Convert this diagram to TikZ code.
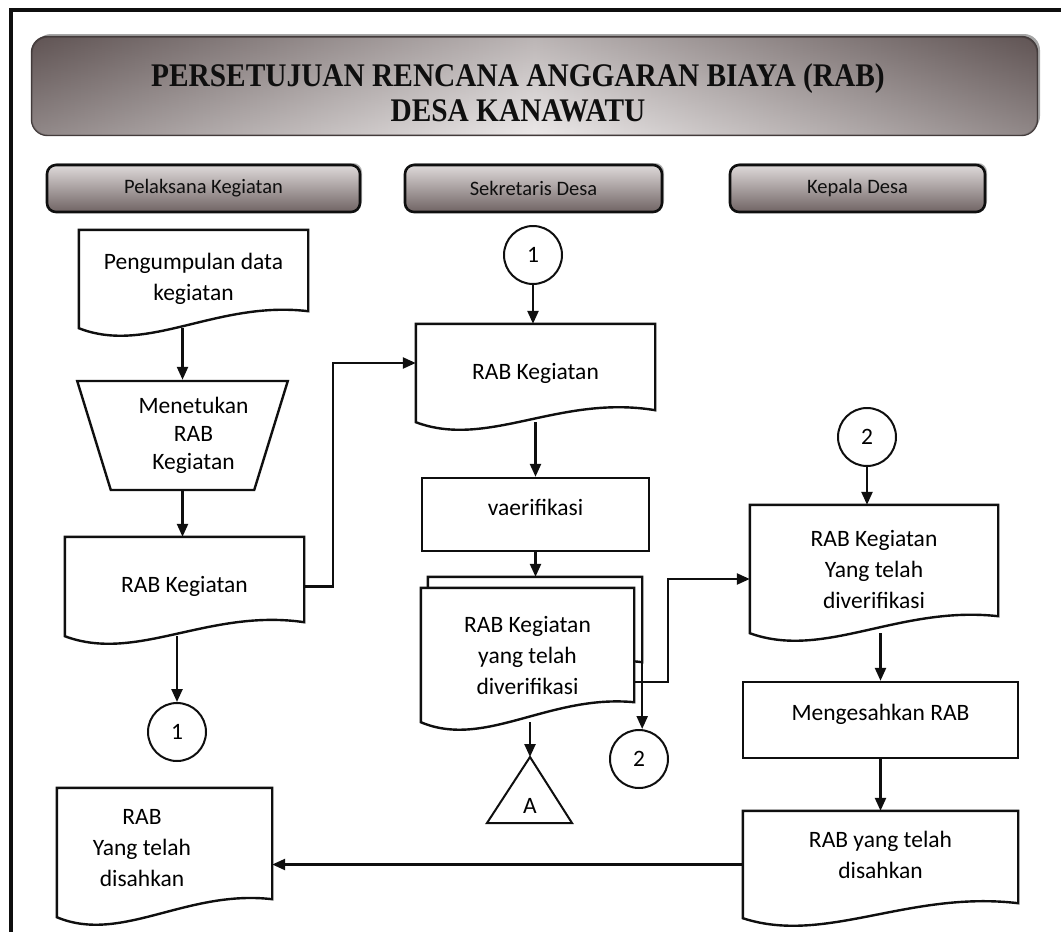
\documentclass[tikz,border=0pt]{standalone}
\usepackage{fontspec}
\setmainfont{Carlito}
\newfontfamily\titlefont[FakeStretch=0.89]{Liberation Serif}
\usetikzlibrary{arrows.meta,calc,shapes.geometric,shadows}

\pgfdeclarelayer{bg}
\pgfsetlayers{bg,main}

\definecolor{ink}{RGB}{15,15,15}
\definecolor{tdark}{RGB}{96,84,84}
\definecolor{tlight}{RGB}{236,233,233}
\definecolor{bdark}{RGB}{112,100,100}
\definecolor{blight}{RGB}{222,217,217}

\newcommand\bodyfont{\fontsize{23.5}{31}\selectfont}
\newcommand\lanefont{\fontsize{20.5}{24}\selectfont}

% document symbol drawn round a named node: [rise of right corner]{node}
\newcommand\docpath[2][17]{%
  \begin{pgfonlayer}{bg}
  \draw[outline, fill=white] (#2.north west) -- (#2.north east) -- ($(#2.south east)+(0,-#1)$)
    .. controls ($(#2.south west)!0.6!(#2.south east)+(0,-28)$) and ($(#2.south west)!0.3!(#2.south east)+(0,27)$) .. (#2.south west) -- cycle;
  \end{pgfonlayer}}

\tikzset{
  outline/.style={draw=ink, line width=2.4pt, line join=miter},
  frame/.style={draw=ink, line width=4pt},
  titlebox/.style={rounded corners=16pt, draw=tdark!70!black, line width=1.2pt,
    left color=tdark, right color=tdark, middle color=tlight,
    minimum width=1005pt, minimum height=98pt,
    drop shadow={shadow xshift=3pt, shadow yshift=3pt, fill=black, opacity=0.35}},
  titletext/.style={font=\titlefont\bfseries\fontsize{33}{34.5}\selectfont, align=center, text=ink},
  lane/.style={rounded corners=9pt, draw=ink, line width=2.6pt, minimum height=47pt,
    top color=blight, bottom color=bdark, font=\lanefont, text=ink,
    drop shadow={shadow xshift=2pt, shadow yshift=2pt, fill=black, opacity=0.3}},
  docu/.style={inner sep=0pt, align=center, font=\bodyfont},
  proc/.style={outline, inner sep=0pt, align=center, font=\bodyfont},
  manual/.style={outline, trapezium, trapezium angle=68, trapezium stretches=true,
    shape border rotate=180, inner sep=0pt, align=center,
    font=\fontsize{23.5}{28}\selectfont},
  conn/.style={circle, draw=ink, line width=2pt, minimum size=58pt, inner sep=0pt, font=\bodyfont},
  arr/.style={draw=ink, line width=2.4pt, -{Triangle[length=13pt,width=11pt]}}
}

\begin{document}
\begin{tikzpicture}[x=1pt,y=1pt,yscale=-1,xscale=1]
\useasboundingbox (0,0) rectangle (1061,932);

% Frame
\draw[frame] (1061,10) -- (11,10) -- (11,932);

% Title
\node[titlebox] (title) at (534.5,86) {};
\path[rounded corners=16pt, top color=tdark, bottom color=tlight, fill opacity=0.35] (title.north west) rectangle (title.south east);
\draw[rounded corners=16pt, draw=tdark!70!black, line width=1.2pt] (title.north west) rectangle (title.south east);
\node[titletext] (ttl) at (518,93) {PERSETUJUAN RENCANA ANGGARAN BIAYA (RAB)\\DESA KANAWATU};

% Lanes
\node[lane, minimum width=313pt] (lane1) at (203.5,188.5) {Pelaksana Kegiatan};
\node[lane, minimum width=257pt] (lane2) at (533.5,188.5) {Sekretaris Desa};
\node[lane, minimum width=255pt] (lane3) at (857.5,188.5) {Kepala Desa};

% Pelaksana Kegiatan
\node[docu, minimum width=229pt, minimum height=98pt] (pd) at (193.5,279) {Pengumpulan data\\kegiatan};
\docpath{pd}
\node[manual, minimum width=211pt, minimum height=109pt] (trap) at (182.5,435.5) {\hspace*{22pt}Menetukan\\\hspace*{22pt}RAB\\\hspace*{22pt}Kegiatan};
\node[docu, minimum width=239pt, minimum height=99pt] (lk) at (184.5,586.5) {RAB Kegiatan};
\docpath[14]{lk}
\node[conn] (c1a) at (177,732) {1};
\node[docu, minimum width=215pt, minimum height=129pt] (ld) at (164.5,852.5) {};
\docpath[18]{ld}
\node[docu] (ldtxt) at (142,848) {RAB\\Yang telah\\disahkan};

% Sekretaris Desa
\node[conn] (c1b) at (533,255) {1};
\node[docu, minimum width=239pt, minimum height=98pt] (mk) at (535.5,373) {RAB Kegiatan};
\docpath[12]{mk}
\node[proc, minimum width=227pt, minimum height=73pt] (ver) at (535.5,514.5) {vaerifikasi\\[-17pt]};
\node[docu, minimum width=214pt, minimum height=102pt] (back) at (535,628) {};
\docpath{back}
\node[docu, minimum width=213pt, minimum height=134pt] (front) at (527.5,655) {RAB Kegiatan\\yang telah\\diverifikasi};
\docpath[20]{front}
\coordinate (apexA) at (530,757);
\draw[outline, line width=2pt] (apexA) -- (487,823) -- (572,823) -- cycle;
\node[font=\bodyfont] (ta) at (530,806) {A};
\node[conn] (c2b) at (639,759) {2};

% Kepala Desa
\node[conn] (c2a) at (867,437) {2};
\node[docu, minimum width=248pt, minimum height=128pt] (rk) at (874,569) {RAB Kegiatan\\Yang telah\\diverifikasi};
\docpath{rk}
\node[proc, minimum width=275pt, minimum height=76pt] (mg) at (880.5,720) {Mengesahkan RAB\\[-15pt]};
\node[docu, minimum width=275pt, minimum height=107pt] (rd) at (880.5,864.5) {RAB yang telah\\disahkan\\[-11pt]};
\docpath[15]{rd}

% Connectors
\draw[arr] (pd.south -| trap.north) -- (trap.north);
\draw[arr] (trap.south) -- (trap.south |- lk.north);
\draw[arr] (lk.east) -- ++(29,0) |- ($(mk.west)+(0,-10)$);
\draw[arr] (lk.south -| c1a.north) -- (c1a.north);
\draw[arr] (c1b.south) -- (c1b.south |- mk.north);
\draw[arr] (mk.south -| ver.north) -- (ver.north);
\draw[arr] (ver.south) -- (ver.south |- back.north);
\draw[arr] (front.south -| apexA) -- (apexA);
\draw[arr] ($(back.south east)+(0,-17)$) -- (back.south east |- c2b.north);
\draw[arr] ($(front.east)+(0,27)$) -- ++(34,0) |- ($(rk.west)+(0,10)$);
\draw[arr] (c2a.south) -- (c2a.south |- rk.north);
\draw[arr] (rk.south -| mg.north) -- (mg.north);
\draw[arr] (mg.south) -- (mg.south |- rd.north);
\draw[arr] (rd.west) -- (rd.west -| ld.east);

\end{tikzpicture}
\end{document}
